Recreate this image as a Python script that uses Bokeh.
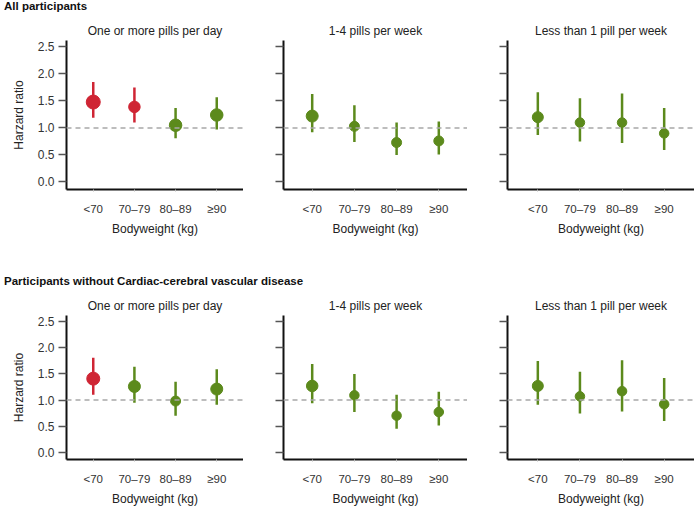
from bokeh.plotting import figure
from bokeh.models import (FactorRange, Range1d, FixedTicker, Span, ColumnDataSource, Div,
                          NumeralTickFormatter)
from bokeh.layouts import column, row
from bokeh.embed import file_html
from bokeh.resources import INLINE

# ---------------- data ----------------
categories = ["<70", "70–79", "80–89", "≥90"]
group_titles = ["All participants",
                "Participants without Cardiac-cerebral vascular disease"]
panel_titles = ["One or more pills per day", "1-4 pills per week",
                "Less than 1 pill per week"]
x_label = "Bodyweight (kg)"
y_label = "Harzard ratio"
y_ticks = [0.0, 0.5, 1.0, 1.5, 2.0, 2.5]
reference_hr = 1.0

# All participants
all_daily_hr = [1.48, 1.39, 1.05, 1.24]
all_daily_lo = [1.19, 1.10, 0.81, 0.97]
all_daily_hi = [1.85, 1.75, 1.37, 1.57]
all_weekly_hr = [1.22, 1.03, 0.73, 0.76]
all_weekly_lo = [0.92, 0.74, 0.50, 0.51]
all_weekly_hi = [1.63, 1.42, 1.10, 1.12]
all_rare_hr = [1.20, 1.10, 1.10, 0.90]
all_rare_lo = [0.87, 0.75, 0.72, 0.59]
all_rare_hi = [1.66, 1.55, 1.64, 1.37]

# Participants without cardiac-cerebral vascular disease
nocvd_daily_hr = [1.41, 1.26, 0.98, 1.21]
nocvd_daily_lo = [1.10, 0.95, 0.70, 0.91]
nocvd_daily_hi = [1.81, 1.64, 1.35, 1.59]
nocvd_weekly_hr = [1.27, 1.09, 0.70, 0.77]
nocvd_weekly_lo = [0.94, 0.77, 0.45, 0.51]
nocvd_weekly_hi = [1.69, 1.50, 1.10, 1.16]
nocvd_rare_hr = [1.27, 1.07, 1.17, 0.92]
nocvd_rare_lo = [0.91, 0.74, 0.78, 0.60]
nocvd_rare_hi = [1.75, 1.54, 1.76, 1.42]

# ---------------- styles ----------------
RED = "#cf2534"
GREEN = "#5c8a1c"
FONT = "Liberation Sans"
marker_px = {
    "all_daily": [14, 11.5, 12.5, 12.5],
    "all_weekly": [12, 10, 10, 10],
    "all_rare": [11, 9.5, 9.5, 9.5],
    "nocvd_daily": [13, 12, 10, 12],
    "nocvd_weekly": [11.5, 9.5, 9.5, 9.5],
    "nocvd_rare": [11, 9.5, 9.5, 9.5],
}
col_width = [243, 224, 227]
col_left = [66, 40, 40]
col_pad = [0.15, 0.18, 0.22]


def make_panel(ci, title, hr, lo, hi, sizes, height, bottom):
    colors = [RED if l > reference_hr else GREEN for l in lo]
    src = ColumnDataSource(dict(cat=categories, hr=hr, lo=lo, hi=hi,
                                size=sizes, color=colors))
    p = figure(x_range=FactorRange(factors=categories, range_padding=col_pad[ci],
                                   range_padding_units="absolute"),
               y_range=Range1d(-0.14, 2.62),
               width=col_width[ci], height=height,
               toolbar_location=None, output_backend="svg",
               min_border_left=col_left[ci], min_border_right=0,
               min_border_top=23, min_border_bottom=bottom,
               x_axis_label=x_label,
               y_axis_label=y_label if ci == 0 else None)
    p.title.text = title
    p.title.align = "center"
    p.title.vertical_align = "middle"
    p.title.text_font = FONT
    p.title.text_font_size = "12px"
    p.title.text_font_style = "normal"
    p.title.text_color = "#222222"
    p.title.standoff = 4

    p.outline_line_color = None
    p.xgrid.visible = False
    p.ygrid.visible = False
    p.background_fill_color = "white"
    p.border_fill_color = "white"

    p.add_layout(Span(location=reference_hr, dimension="width", line_color="#a8a8a8",
                      line_width=1.5, line_dash="5 4"))
    p.segment(x0="cat", y0="lo", x1="cat", y1="hi", source=src,
              line_color="color", line_width=2.5)
    p.scatter(x="cat", y="hr", size="size", source=src,
              fill_color="color", line_color="color")

    for ax in (p.xaxis[0], p.yaxis[0]):
        ax.axis_line_color = "#111111"
        ax.axis_line_width = 2
        ax.minor_tick_line_color = None
        ax.major_label_text_font = FONT
        ax.major_label_text_color = "#333333"
        ax.axis_label_text_font = FONT
        ax.axis_label_text_font_style = "normal"
        ax.axis_label_text_color = "#222222"
        ax.axis_label_text_font_size = "12px"

    xa = p.xaxis[0]
    xa.major_tick_in = 0
    xa.major_tick_out = 2
    xa.major_tick_line_color = "#bbbbbb"
    xa.major_label_text_font_size = "11.5px"
    xa.major_label_standoff = 11
    xa.axis_label_standoff = 4

    ya = p.yaxis[0]
    ya.ticker = FixedTicker(ticks=y_ticks)
    ya.formatter = NumeralTickFormatter(format="0.0")
    ya.major_tick_in = 0
    ya.major_tick_out = 8
    ya.major_tick_line_color = "#555555"
    ya.major_tick_line_width = 1.5
    ya.major_label_standoff = 4
    ya.major_label_text_font_size = "12px"
    if ci != 0:
        ya.major_label_text_color = None
    ya.axis_label_standoff = 9
    return p


def title_div(text):
    return Div(text=text, width=694, height=17, margin=0,
               styles={"font-family": FONT, "font-weight": "bold",
                       "font-size": "11.5px", "line-height": "13px",
                       "color": "#111111", "text-indent": "4px"})


row1 = [
    make_panel(0, panel_titles[0], all_daily_hr, all_daily_lo, all_daily_hi,
               marker_px["all_daily"], 258, 86),
    make_panel(1, panel_titles[1], all_weekly_hr, all_weekly_lo, all_weekly_hi,
               marker_px["all_weekly"], 258, 86),
    make_panel(2, panel_titles[2], all_rare_hr, all_rare_lo, all_rare_hi,
               marker_px["all_rare"], 258, 86),
]
row2 = [
    make_panel(0, panel_titles[0], nocvd_daily_hr, nocvd_daily_lo, nocvd_daily_hi,
               marker_px["nocvd_daily"], 216, 44),
    make_panel(1, panel_titles[1], nocvd_weekly_hr, nocvd_weekly_lo, nocvd_weekly_hi,
               marker_px["nocvd_weekly"], 216, 44),
    make_panel(2, panel_titles[2], nocvd_rare_hr, nocvd_rare_lo, nocvd_rare_hi,
               marker_px["nocvd_rare"], 216, 44),
]

layout = column(title_div(group_titles[0]), row(*row1),
                title_div(group_titles[1]), row(*row2))

open("out.html", "w").write(file_html(layout, INLINE))
